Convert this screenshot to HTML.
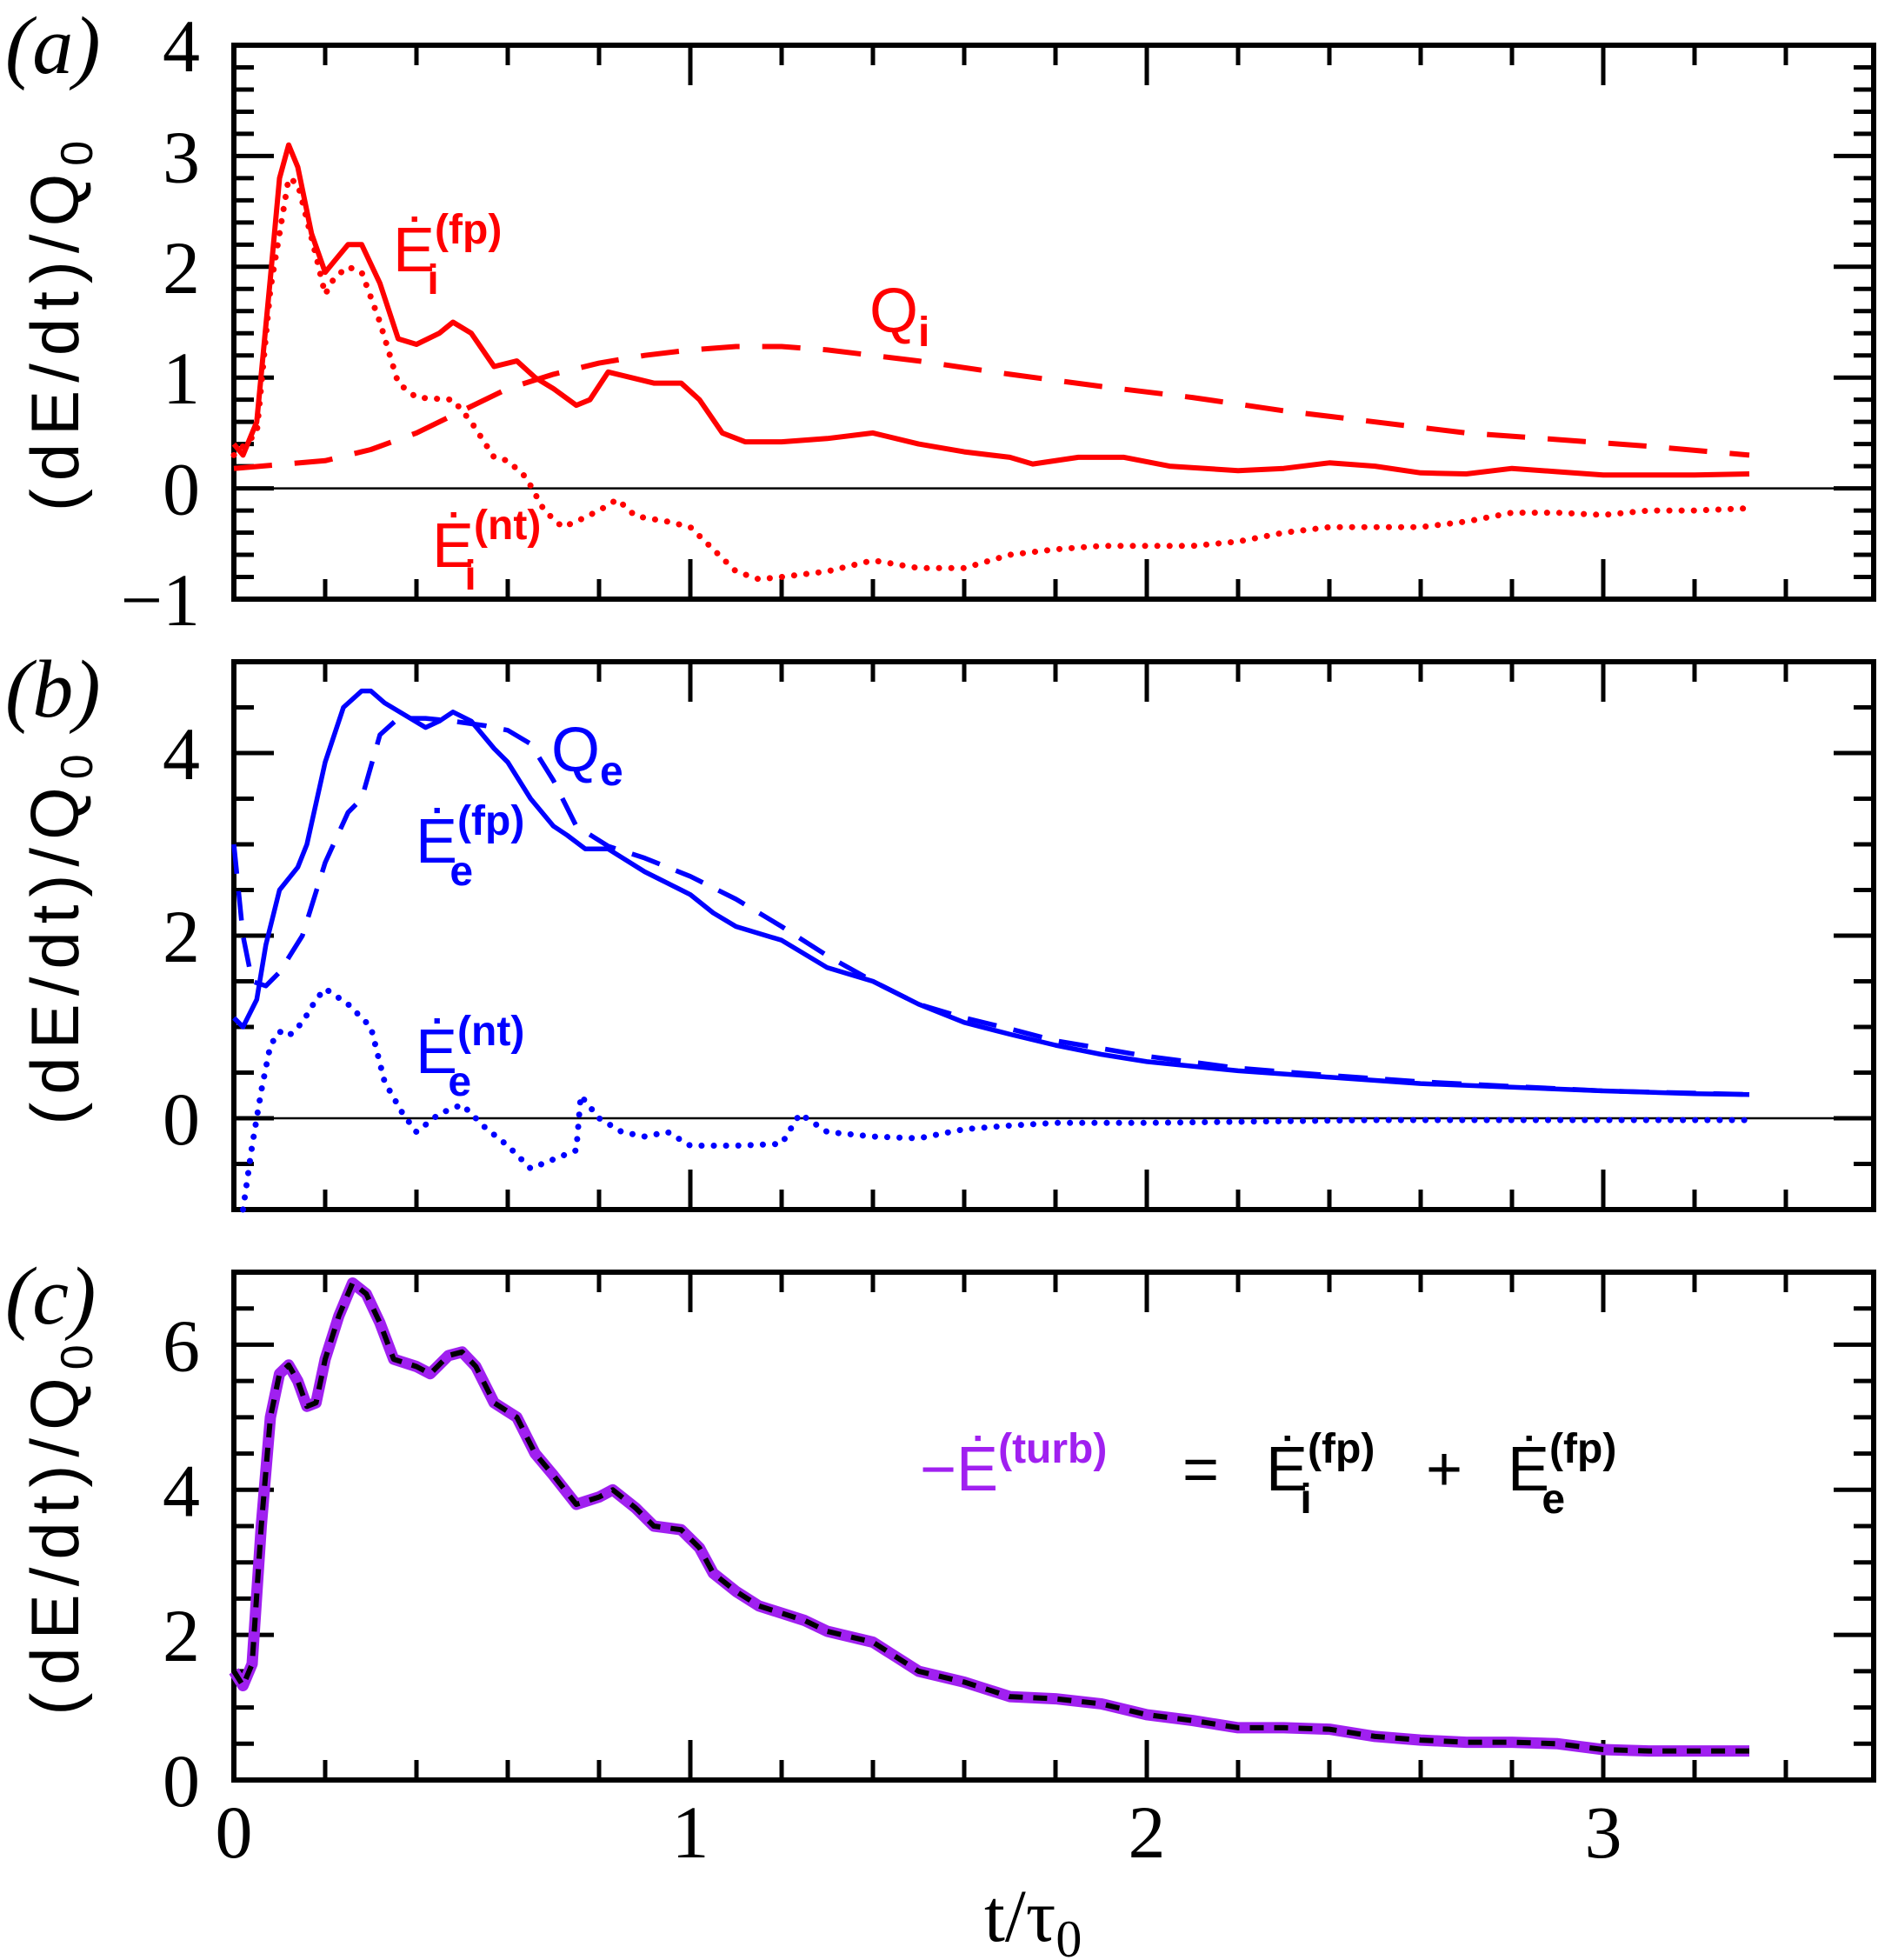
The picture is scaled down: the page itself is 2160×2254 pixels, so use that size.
<!DOCTYPE html>
<html><head><meta charset="utf-8"><style>
html,body{margin:0;padding:0;background:#fff;}
svg{display:block;}
.tk{font-family:"Liberation Serif",serif;font-size:86px;fill:#000;}
.yt{font-family:"Liberation Sans",sans-serif;font-size:78px;letter-spacing:9px;fill:#000;}
.pl{font-family:"Liberation Serif",serif;font-size:94px;fill:#000;}
.lb{font-family:"Liberation Sans",sans-serif;font-size:72px;}
.sp{font-size:48px;font-weight:bold;}
</style></head><body>
<svg id="chart" width="2160" height="2254" viewBox="0 0 2160 2254" xmlns="http://www.w3.org/2000/svg">
<g id="marks"></g>
<g id="labels">
<text class="pl" x="6" y="84" font-style="italic">(a)</text>
<text class="pl" x="6" y="824" font-style="italic">(b)</text>
<text class="pl" x="6" y="1522" font-style="italic">(c)</text>
<text class="lb" x="452" y="312" fill="#ff0000">Ė<tspan class="sp" dy="-32">(fp)</tspan><tspan class="sp" dx="-86" dy="58">i</tspan></text>
<text class="lb" x="1000" y="382" fill="#ff0000">Q<tspan class="sp" dy="16">i</tspan></text>
<text class="lb" x="497" y="652" fill="#ff0000">Ė<tspan class="sp" dy="-32">(nt)</tspan><tspan class="sp" dx="-88" dy="58">i</tspan></text>
<text class="lb" x="634" y="887" fill="#0000ff">Q<tspan class="sp" dy="16">e</tspan></text>
<text class="lb" x="478" y="992" fill="#0000ff">Ė<tspan class="sp" dy="-32">(fp)</tspan><tspan class="sp" dx="-86" dy="58">e</tspan></text>
<text class="lb" x="478" y="1234" fill="#0000ff">Ė<tspan class="sp" dy="-32">(nt)</tspan><tspan class="sp" dx="-88" dy="58">e</tspan></text>
<g>
<text class="lb" x="1058" y="1714" fill="#a020f0">−Ė<tspan class="sp" dy="-32">(turb)</tspan></text>
<text class="lb" x="1360" y="1714" fill="#000">=</text>
<text class="lb" x="1456" y="1714" fill="#000">Ė<tspan class="sp" dy="-32">(fp)</tspan><tspan class="sp" dx="-86" dy="58">i</tspan></text>
<text class="lb" x="1640" y="1714" fill="#000">+</text>
<text class="lb" x="1734" y="1714" fill="#000">Ė<tspan class="sp" dy="-32">(fp)</tspan><tspan class="sp" dx="-86" dy="58">e</tspan></text>
</g>
<text class="tk" x="1132" y="2232" font-size="96">t/τ<tspan font-size="60" dy="18">0</tspan></text>
</g>
</svg>
<script>
// ---- data ----
const xTickLabels = ["0","1","2","3"];
const aTickLabels = ["−1","0","1","2","3","4"];
const bTickLabels = ["0","2","4"];
const cTickLabels = ["0","2","4","6"];

const tEiFp = [0,0.02,0.05,0.08,0.1,0.12,0.14,0.17,0.2,0.22,0.25,0.28,0.32,0.36,0.4,0.45,0.48,0.52,0.57,0.62,0.66,0.7,0.75,0.78,0.82,0.87,0.92,0.98,1.02,1.07,1.12,1.2,1.3,1.4,1.5,1.6,1.7,1.75,1.85,1.95,2.05,2.2,2.3,2.4,2.5,2.6,2.7,2.8,2.9,3.0,3.1,3.2,3.32];
const vEiFp = [0.4,0.3,0.6,1.9,2.8,3.1,2.9,2.3,1.95,2.05,2.2,2.2,1.85,1.35,1.3,1.4,1.5,1.4,1.1,1.15,1.0,0.9,0.75,0.8,1.05,1.0,0.95,0.95,0.8,0.5,0.42,0.42,0.45,0.5,0.4,0.33,0.28,0.22,0.28,0.28,0.2,0.16,0.18,0.23,0.2,0.14,0.13,0.18,0.15,0.12,0.12,0.12,0.13];
const tEiNt = [0,0.05,0.08,0.12,0.14,0.18,0.2,0.22,0.25,0.28,0.32,0.36,0.4,0.48,0.52,0.57,0.6,0.64,0.68,0.72,0.75,0.8,0.84,0.88,0.95,1.0,1.05,1.1,1.15,1.2,1.3,1.4,1.5,1.6,1.7,1.8,1.9,2.0,2.1,2.2,2.3,2.4,2.5,2.6,2.7,2.8,2.9,3.0,3.1,3.2,3.32];
const vEiNt = [0.3,0.5,1.8,2.8,2.75,2.1,1.75,1.9,2.0,1.95,1.5,0.95,0.82,0.8,0.6,0.28,0.25,0.1,-0.2,-0.35,-0.3,-0.2,-0.1,-0.25,-0.3,-0.35,-0.55,-0.75,-0.82,-0.8,-0.75,-0.65,-0.72,-0.72,-0.6,-0.55,-0.52,-0.52,-0.52,-0.48,-0.4,-0.35,-0.35,-0.35,-0.3,-0.22,-0.22,-0.24,-0.2,-0.2,-0.18];
const tQi = [0,0.2,0.3,0.4,0.5,0.6,0.7,0.8,0.9,1.0,1.1,1.2,1.3,1.5,1.7,1.9,2.1,2.3,2.5,2.7,2.9,3.1,3.32];
const vQi = [0.18,0.25,0.35,0.5,0.7,0.9,1.03,1.13,1.2,1.25,1.28,1.28,1.25,1.15,1.03,0.92,0.82,0.7,0.6,0.5,0.44,0.38,0.3];

const tEeFp = [0,0.02,0.05,0.07,0.1,0.14,0.16,0.2,0.24,0.28,0.3,0.33,0.38,0.42,0.45,0.48,0.52,0.57,0.6,0.65,0.7,0.73,0.77,0.82,0.9,0.98,1.0,1.05,1.1,1.2,1.3,1.4,1.5,1.6,1.7,1.8,1.9,2.0,2.2,2.4,2.6,2.8,3.0,3.2,3.32];
const vEeFp = [1.1,1.0,1.3,1.9,2.5,2.75,3.0,3.9,4.5,4.68,4.68,4.55,4.4,4.28,4.35,4.45,4.35,4.05,3.9,3.5,3.2,3.1,2.95,2.95,2.7,2.5,2.45,2.25,2.1,1.95,1.65,1.5,1.25,1.05,0.92,0.8,0.7,0.62,0.52,0.45,0.38,0.34,0.3,0.27,0.26];
const tQe = [0,0.02,0.04,0.07,0.1,0.15,0.2,0.25,0.28,0.32,0.36,0.42,0.48,0.55,0.6,0.65,0.7,0.75,0.82,0.9,1.0,1.1,1.2,1.3,1.4,1.5,1.6,1.7,1.8,2.0,2.2,2.4,2.6,2.8,3.0,3.32];
const vQe = [3.0,2.0,1.5,1.45,1.6,2.0,2.8,3.35,3.5,4.2,4.38,4.38,4.35,4.3,4.25,4.1,3.7,3.2,2.98,2.85,2.65,2.4,2.1,1.78,1.5,1.25,1.1,0.98,0.85,0.68,0.55,0.47,0.4,0.35,0.3,0.26];
const tEeNt = [0.02,0.04,0.06,0.08,0.1,0.12,0.15,0.18,0.2,0.25,0.3,0.33,0.37,0.4,0.45,0.5,0.55,0.6,0.65,0.7,0.75,0.76,0.8,0.85,0.9,0.95,1.0,1.1,1.2,1.24,1.3,1.4,1.5,1.6,1.7,1.8,2.0,2.5,3.32];
const vEeNt = [-1.0,-0.3,0.3,0.8,0.95,0.9,1.05,1.3,1.42,1.25,1.0,0.4,0.05,-0.15,0.05,0.15,-0.1,-0.3,-0.55,-0.45,-0.35,0.25,0.0,-0.15,-0.2,-0.15,-0.3,-0.3,-0.28,0.05,-0.15,-0.2,-0.22,-0.12,-0.08,-0.05,-0.05,-0.02,-0.02];

const tTurb = [0,0.02,0.04,0.06,0.08,0.1,0.12,0.14,0.16,0.18,0.2,0.23,0.26,0.29,0.32,0.35,0.4,0.43,0.47,0.5,0.53,0.57,0.62,0.66,0.7,0.75,0.8,0.83,0.88,0.92,0.98,1.02,1.05,1.1,1.15,1.25,1.3,1.4,1.45,1.5,1.6,1.7,1.8,1.9,2.0,2.1,2.2,2.3,2.4,2.5,2.6,2.7,2.8,2.9,3.0,3.1,3.2,3.32];
const vTurb = [1.5,1.3,1.6,3.5,5.0,5.6,5.72,5.5,5.15,5.2,5.8,6.4,6.85,6.7,6.3,5.8,5.7,5.6,5.85,5.9,5.7,5.2,5.0,4.5,4.2,3.8,3.9,4.0,3.75,3.5,3.45,3.2,2.85,2.6,2.4,2.2,2.05,1.9,1.7,1.5,1.35,1.15,1.12,1.05,0.9,0.82,0.72,0.72,0.7,0.6,0.55,0.52,0.52,0.5,0.42,0.4,0.4,0.4];

// ---- layout ----
const X0 = 269, X1 = 2155, XPU = 525;
const xs = t => X0 + t * XPU;
const panels = [
  {id:'a', top:52, bottom:689, ymin:-1, ymax:4, minor:0.2, major:1, labels:aTickLabels, lstart:-1, lstep:1, zero:true},
  {id:'b', top:761, bottom:1391, ymin:-1, ymax:5, minor:0.5, major:2, labels:bTickLabels, lstart:0, lstep:2, zero:true},
  {id:'c', top:1463, bottom:2047, ymin:0, ymax:7, minor:0.5, major:2, labels:cTickLabels, lstart:0, lstep:2, zero:false}
];
panels.forEach(p => { p.ys = v => p.bottom - (v - p.ymin) * (p.bottom - p.top) / (p.ymax - p.ymin); });

const NS = 'http://www.w3.org/2000/svg';
const root = document.getElementById('marks');
function mk(tag, attrs, parent) {
  const e = document.createElementNS(NS, tag);
  for (const k in attrs) e.setAttribute(k, attrs[k]);
  (parent || root).appendChild(e);
  return e;
}
function pathD(ts, vs, p) {
  return ts.map((t, i) => (i ? 'L' : 'M') + xs(t).toFixed(1) + ' ' + p.ys(vs[i]).toFixed(1)).join(' ');
}
function series(ts, vs, p, style, name) {
  const e = mk('path', Object.assign({d: pathD(ts, vs, p), fill: 'none', 'stroke-linejoin': 'round'}, style));
  
  
  return e;
}

panels.forEach(p => {
  const g = mk('g', {});
  
  
  const xmax = (X1 - X0) / XPU;
  for (let k = 0; k * 0.2 <= xmax + 1e-9; k++) {
    const t = k * 0.2, big = (k % 5 === 0), L = big ? 46 : 23, x = xs(t);
    mk('line', {x1:x, x2:x, y1:p.bottom, y2:p.bottom - L, stroke:'#000', 'stroke-width':5}, g);
    mk('line', {x1:x, x2:x, y1:p.top, y2:p.top + L, stroke:'#000', 'stroke-width':5}, g);
  }
  const n = Math.round((p.ymax - p.ymin) / p.minor);
  for (let k = 0; k <= n; k++) {
    const v = p.ymin + k * p.minor;
    const big = Math.abs(v / p.major - Math.round(v / p.major)) < 1e-6;
    const L = big ? 46 : 23, y = p.ys(v);
    mk('line', {x1:X0, x2:X0 + L, y1:y, y2:y, stroke:'#000', 'stroke-width':5}, g);
    mk('line', {x1:X1, x2:X1 - L, y1:y, y2:y, stroke:'#000', 'stroke-width':5}, g);
  }
  p.labels.forEach((lab, i) => {
    const v = p.lstart + i * p.lstep;
    const tx = mk('text', {x:230, y:p.ys(v) + 30, 'text-anchor':'end', class:'tk'}, g);
    tx.textContent = lab;
    
    
  });
  if (p.zero) {
    const z = mk('line', {x1:X0, x2:X1, y1:p.ys(0), y2:p.ys(0), stroke:'#000', 'stroke-width':2.5}, g);
    
    
  }
  const fr = mk('rect', {x:X0, y:p.top, width:X1 - X0, height:p.bottom - p.top, fill:'none', stroke:'#000', 'stroke-width':6}, g);
  
  
  const cy = (p.top + p.bottom) / 2;
  const yt = mk('text', {x:0, y:0, 'text-anchor':'middle', class:'yt', transform:'translate(90,' + cy + ') rotate(-90)'}, g);
  yt.innerHTML = '(dE/dt)/Q<tspan font-size="52" dy="16">0</tspan>';
  
  
});

xTickLabels.forEach((lab, i) => {
  const tx = mk('text', {x:xs(i), y:2136, 'text-anchor':'middle', class:'tk'});
  tx.textContent = lab;
  
  
});

const [pa, pb, pc] = panels;
const red = '#ff0000', blue = '#0000ff';
series(tQi, vQi, pa, {stroke:red, 'stroke-width':6, 'stroke-dasharray':'44 26'}, 'qi-line');
series(tEiNt, vEiNt, pa, {stroke:red, 'stroke-width':7, 'stroke-dasharray':'0.1 14', 'stroke-linecap':'round'}, 'ei-nt-line');
series(tEiFp, vEiFp, pa, {stroke:red, 'stroke-width':6}, 'ei-fp-line');
series(tQe, vQe, pb, {stroke:blue, 'stroke-width':5.5, 'stroke-dasharray':'34 20'}, 'qe-line');
series(tEeNt, vEeNt, pb, {stroke:blue, 'stroke-width':7, 'stroke-dasharray':'0.1 14', 'stroke-linecap':'round'}, 'ee-nt-line');
series(tEeFp, vEeFp, pb, {stroke:blue, 'stroke-width':5.5}, 'ee-fp-line');
series(tTurb, vTurb, pc, {stroke:'#a020f0', 'stroke-width':13}, 'turb-line');
series(tTurb, vTurb, pc, {stroke:'#000', 'stroke-width':6, 'stroke-dasharray':'16 12'}, 'sum-fp-line');
</script>
</body></html>
